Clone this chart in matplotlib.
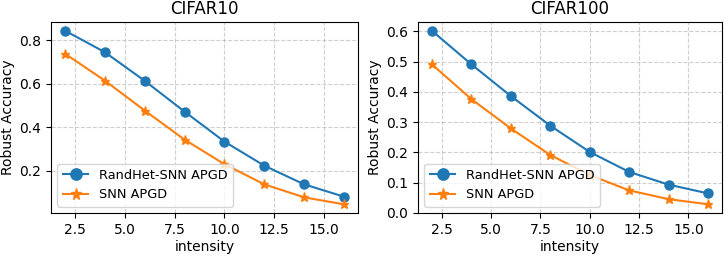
import matplotlib
matplotlib.use("Agg")
import matplotlib.pyplot as plt

intensity = [2, 4, 6, 8, 10, 12, 14, 16]
cifar10_randhet = [0.845, 0.746, 0.614, 0.472, 0.334, 0.223, 0.137, 0.080]
cifar10_snn = [0.739, 0.615, 0.477, 0.343, 0.230, 0.137, 0.077, 0.045]
cifar100_randhet = [0.602, 0.491, 0.386, 0.288, 0.201, 0.135, 0.093, 0.064]
cifar100_snn = [0.491, 0.376, 0.279, 0.191, 0.125, 0.074, 0.045, 0.028]
titles = ["CIFAR10", "CIFAR100"]
labels = ["RandHet-SNN APGD", "SNN APGD"]

fig = plt.figure(figsize=(7.28, 2.56), dpi=100)
ax1 = fig.add_axes([51/728, 1-213/256, 307/728, 191/256])
ax2 = fig.add_axes([418/728, 1-213/256, 304/728, 191/256])

for ax, title, a, b in [(ax1, titles[0], cifar10_randhet, cifar10_snn),
                        (ax2, titles[1], cifar100_randhet, cifar100_snn)]:
    ax.plot(intensity, a, marker="o", markersize=6.5, color="#1f77b4", label=labels[0])
    ax.plot(intensity, b, marker="*", markersize=6.5, color="#ff7f0e", label=labels[1])
    ax.set_title(title, fontsize=12)
    ax.set_xlabel("intensity", fontsize=10, labelpad=2)
    ax.set_ylabel("Robust Accuracy", fontsize=10)
    ax.grid(True, linestyle="--", alpha=0.6)
    ax.legend(loc="lower left", fontsize=9.3, markerscale=1.25)
    ax.set_xticks([2.5, 5.0, 7.5, 10.0, 12.5, 15.0])

ax1.set_yticks([0.2, 0.4, 0.6, 0.8])
ax2.set_yticks([0.0, 0.1, 0.2, 0.3, 0.4, 0.5, 0.6])
ax1.yaxis.set_label_coords((15 - 51) / 307, 0.5)
ax2.yaxis.set_label_coords((382 - 418) / 304, 0.5)

fig.savefig("out.png", dpi=100)
